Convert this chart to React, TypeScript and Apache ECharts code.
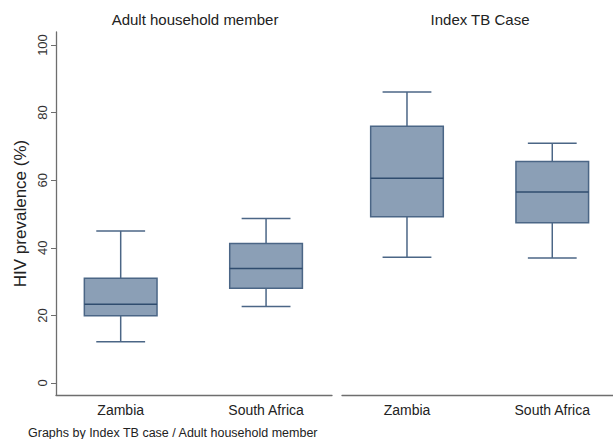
import React, { useEffect, useRef } from "react";
import * as echarts from "echarts";

const categories = ["Zambia", "South Africa"];
const panelTitles = ["Adult household member", "Index TB Case"];
// [position, lowerWhisker, Q1, median, Q3, upperWhisker]
const adultHousehold = [
  [1, 12.2, 19.9, 23.3, 31.0, 45.0],
  [2, 22.6, 28.0, 33.9, 41.3, 48.7],
];
const indexTBCase = [
  [1, 37.2, 49.2, 60.6, 76.0, 86.1],
  [2, 37.0, 47.4, 56.5, 65.5, 70.9],
];
const yTicks = [0, 20, 40, 60, 80, 100];
const yAxisTitle = "HIV prevalence (%)";
const footnote = "Graphs by Index TB case / Adult household member";

const FONT = "'Liberation Sans', Arial, Helvetica, sans-serif";
const FILL = "#8b9fb6";
const STROKE = "#4b6686";
const MEDIAN = "#2f4c6e";
const AXIS = "#6e6e6e";

function renderBox(params: any, api: any) {
  const x = api.value(0);
  const lo = api.value(1);
  const q1 = api.value(2);
  const med = api.value(3);
  const q3 = api.value(4);
  const hi = api.value(5);
  const band = api.size([1, 0])[0];
  const hw = band * 0.25;
  const cw = band * 0.168;
  const pLo = api.coord([x, lo]);
  const pQ1 = api.coord([x, q1]);
  const pMed = api.coord([x, med]);
  const pQ3 = api.coord([x, q3]);
  const pHi = api.coord([x, hi]);
  const cx = pMed[0];
  const ls = { stroke: STROKE, lineWidth: 1.5 };
  return {
    type: "group",
    children: [
      { type: "line", shape: { x1: cx, y1: pQ3[1], x2: cx, y2: pHi[1] }, style: ls },
      { type: "line", shape: { x1: cx, y1: pQ1[1], x2: cx, y2: pLo[1] }, style: ls },
      { type: "line", shape: { x1: cx - cw, y1: pHi[1], x2: cx + cw, y2: pHi[1] }, style: ls },
      { type: "line", shape: { x1: cx - cw, y1: pLo[1], x2: cx + cw, y2: pLo[1] }, style: ls },
      {
        type: "rect",
        shape: { x: cx - hw, y: pQ3[1], width: 2 * hw, height: pQ1[1] - pQ3[1] },
        style: { fill: FILL, stroke: STROKE, lineWidth: 1.5 },
      },
      { type: "line", shape: { x1: cx - hw, y1: pMed[1], x2: cx + hw, y2: pMed[1] }, style: { stroke: MEDIAN, lineWidth: 1.5 } },
    ],
  };
}

export default function App() {
  const ref = useRef<HTMLDivElement>(null);
  useEffect(() => {
    document.body.style.margin = "0";
    const chart = echarts.init(ref.current!, null, { renderer: "svg" });
    const xAxisBase = (gridIndex: number, min: number, max: number) => ({
      type: "value",
      gridIndex,
      min,
      max,
      axisLine: { show: true, onZero: false, lineStyle: { color: AXIS, width: 1.3 } },
      axisTick: { show: false },
      splitLine: { show: false },
      axisLabel: {
        customValues: [1, 2],
        formatter: (v: number) => categories[Math.round(v) - 1] ?? "",
        color: "#222",
        fontSize: 14,
        fontFamily: FONT,
        margin: 8,
      },
    });
    chart.setOption({
      animation: false,
      backgroundColor: "#ffffff",
      textStyle: { fontFamily: FONT },
      grid: [
        { left: 56, top: 32, width: 276, height: 363 },
        { left: 342, top: 32, width: 271, height: 363 },
      ],
      xAxis: [xAxisBase(0, 0.555, 2.4536), xAxisBase(1, 0.5527, 2.418)],
      yAxis: [
        {
          type: "value",
          gridIndex: 0,
          min: -3.55,
          max: 103.85,
          name: yAxisTitle,
          nameLocation: "middle",
          nameGap: 27,
          nameTextStyle: { fontSize: 17, color: "#222", fontFamily: FONT },
          axisLine: { show: true, lineStyle: { color: AXIS, width: 1.3 } },
          axisTick: { show: true, customValues: yTicks, length: 5, lineStyle: { color: AXIS } },
          splitLine: { show: false },
          axisLabel: {
            customValues: yTicks,
            rotate: 90,
            color: "#333",
            fontSize: 13,
            fontFamily: FONT,
            margin: 7,
          },
        },
        {
          type: "value",
          gridIndex: 1,
          min: -3.55,
          max: 103.85,
          show: false,
          splitLine: { show: false },
        },
      ],
      series: [
        {
          type: "custom",
          xAxisIndex: 0,
          yAxisIndex: 0,
          renderItem: renderBox,
          encode: { x: 0, y: [1, 2, 3, 4, 5] },
          data: adultHousehold,
        },
        {
          type: "custom",
          xAxisIndex: 1,
          yAxisIndex: 1,
          renderItem: renderBox,
          encode: { x: 0, y: [1, 2, 3, 4, 5] },
          data: indexTBCase,
        },
      ],
      graphic: [
        {
          type: "text",
          x: 195,
          y: 19,
          style: { text: panelTitles[0], textAlign: "center", textVerticalAlign: "middle", fontSize: 15, fill: "#222", fontFamily: FONT },
        },
        {
          type: "text",
          x: 480,
          y: 19,
          style: { text: panelTitles[1], textAlign: "center", textVerticalAlign: "middle", fontSize: 15, fill: "#222", fontFamily: FONT },
        },
        {
          type: "text",
          x: 28,
          y: 433,
          style: { text: footnote, textAlign: "left", textVerticalAlign: "middle", fontSize: 12.5, fill: "#222", fontFamily: FONT },
        },
      ],
    });
    return () => chart.dispose();
  }, []);
  return <div ref={ref} style={{ width: 613, height: 439 }} />;
}
